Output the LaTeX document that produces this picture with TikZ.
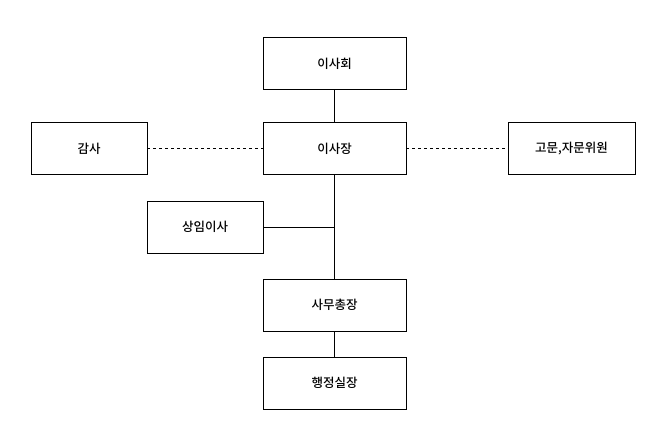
\documentclass[tikz,border=0pt]{standalone}
\usepackage{fontspec}
\newfontfamily\cjk{Noto Sans CJK KR Medium}
\begin{document}
\begin{tikzpicture}[x=1pt,y=-1pt,
  box/.style={draw,thick,minimum height=52pt,inner sep=0pt,font=\cjk\fontsize{12.5}{14}\selectfont},
  wide/.style={box,minimum width=143pt},
  line/.style={thick}]
\useasboundingbox (0,0) rectangle (668,441);
\node[wide] (a) at (334.5,63.5) {이사회};
\node[wide] (b) at (334.5,148.5) {이사장};
\node[box,minimum width=116pt] (c) at (89,148.5) {감사};
\node[box,minimum width=127pt] (d) at (571.5,148.5) {고문,자문위원};
\node[box,minimum width=116pt] (e) at (205,227) {상임이사};
\node[wide] (f) at (334.5,305) {사무총장};
\node[wide] (g) at (334.5,383) {행정실장};
\coordinate (j) at (334.5,227);
\draw[line] (a) -- (b);
\draw[line] (b) -- (f);
\draw[line] (f) -- (g);
\draw[line] (e.east) -- (j);
\draw[line,dashed] (c) -- (b);
\draw[line,dashed] (b) -- (d);
\end{tikzpicture}
\end{document}
